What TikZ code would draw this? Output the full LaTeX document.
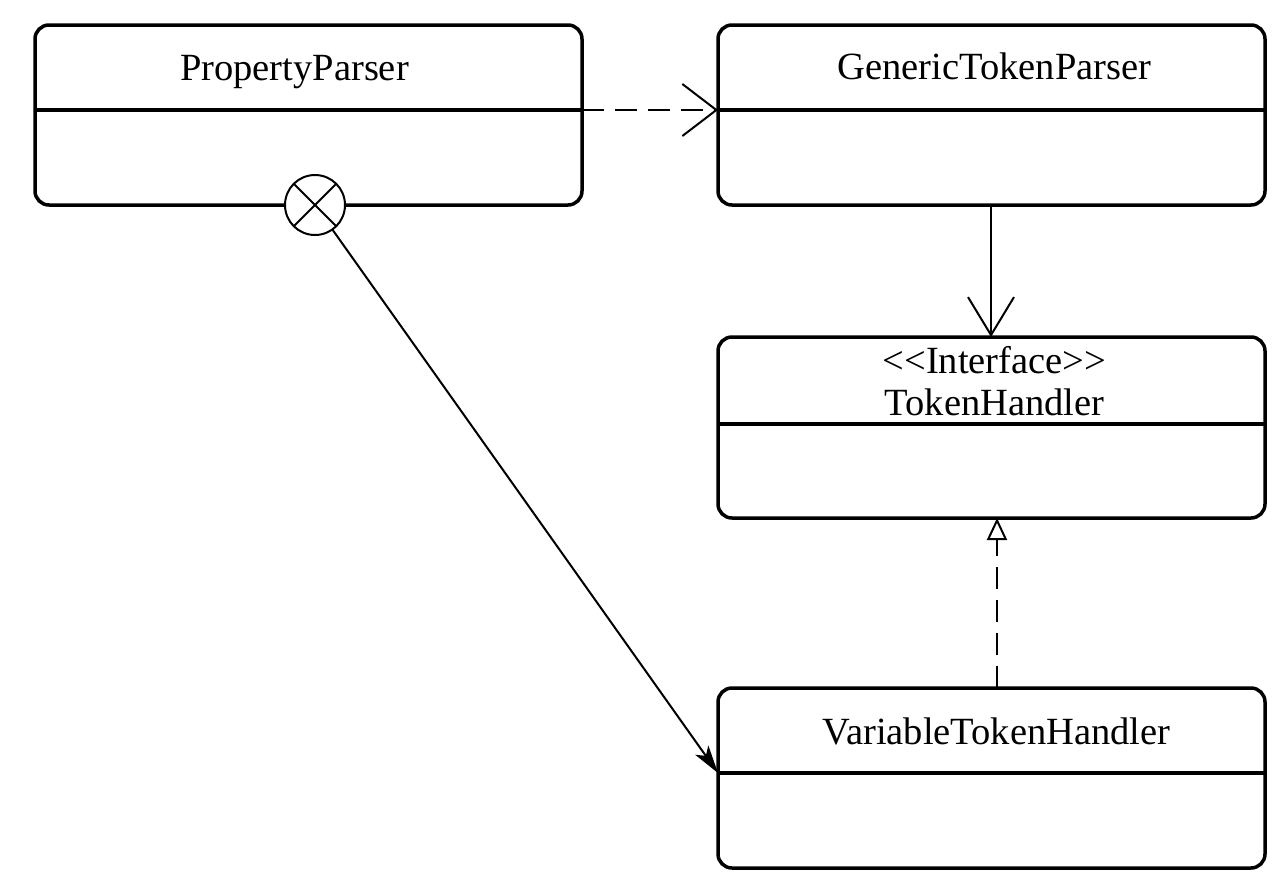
\documentclass[tikz,border=0pt]{standalone}
\usepackage{fontspec}
\setmainfont{Liberation Serif}
\usetikzlibrary{arrows.meta}
\begin{document}
\begin{tikzpicture}[x=1pt,y=-1pt,
  cls/.style={draw, line width=3.5pt, rounded corners=14pt, minimum width=547pt,
    minimum height=180pt, anchor=north west, inner sep=0pt, outer sep=0pt},
  sepline/.style={line width=3.5pt},
  lbl/.style={font=\fontsize{38.5}{44}\selectfont, inner sep=0pt, anchor=base},
  conn/.style={line width=2pt},
  dashconn/.style={line width=2pt, dash pattern=on 22pt off 11pt},
  barb/.style={-{Straight Barb[length=34pt,width=52pt,line width=2pt]}},
  vbarb/.style={-{Straight Barb[length=38pt,width=46pt,line width=2pt]}},
  realize/.style={-{Triangle[open,length=22pt,width=20pt,line width=2pt]}},
  assoc/.style={-{Stealth[length=28pt,width=16pt,inset=7pt]}},
]
\useasboundingbox (0,0) rectangle (1288,892);

% classes
\node[cls] (pp) at (35,25) {};
\node[cls] (gtp) at (718,25) {};
\node[cls, minimum height=181pt] (th) at (718,337) {};
\node[cls] (vth) at (718,688) {};

% dividers
\coordinate (ppL) at ([yshift=-85pt]pp.north west);
\coordinate (ppR) at ([yshift=-85pt]pp.north east);
\coordinate (gtpL) at ([yshift=-85pt]gtp.north west);
\coordinate (gtpR) at ([yshift=-85pt]gtp.north east);
\coordinate (thL) at ([yshift=-87pt]th.north west);
\coordinate (thR) at ([yshift=-87pt]th.north east);
\coordinate (vthL) at ([yshift=-85pt]vth.north west);
\coordinate (vthR) at ([yshift=-85pt]vth.north east);
\draw[sepline] (ppL) -- (ppR);
\draw[sepline] (gtpL) -- (gtpR);
\draw[sepline] (thL) -- (thR);
\draw[sepline] (vthL) -- (vthR);

% titles
\node[lbl] (ppT) at ([xshift=-14pt,yshift=-55pt]pp.north) {PropertyParser};
\node[lbl] (gtpT) at ([xshift=3pt,yshift=-54pt]gtp.north) {GenericTokenParser};
\node[lbl] (thS) at ([xshift=3pt,yshift=-36pt]th.north) {{<}{<}Interface{>}{>}};
\node[lbl] (thT) at ([xshift=3pt,yshift=-78pt]th.north) {TokenHandler};
\node[lbl] (vthT) at ([xshift=5pt,yshift=-56pt]vth.north) {VariableTokenHandler};

% composition circle
\node[circle, draw, fill=white, line width=2pt, minimum size=60pt, inner sep=0pt, outer sep=0pt]
  (cc) at (pp.south -| 315,0) {};
\draw[line width=2pt] (cc.45) -- (cc.225) (cc.135) -- (cc.315);

% connectors
\draw[dashconn, barb] (ppR) -- (gtpL);
\coordinate (gtpB) at (gtp.south -| 991,0);
\coordinate (thTop) at (th.north -| 991,0);
\draw[conn, vbarb] (gtpB) -- (thTop);
\coordinate (vthTop) at (vth.north -| 997,0);
\coordinate (thBot) at (th.south -| 997,0);
\draw[dashconn, realize] (vthTop) -- (thBot);
\draw[conn, assoc] (cc) -- (vthL);
\end{tikzpicture}
\end{document}
